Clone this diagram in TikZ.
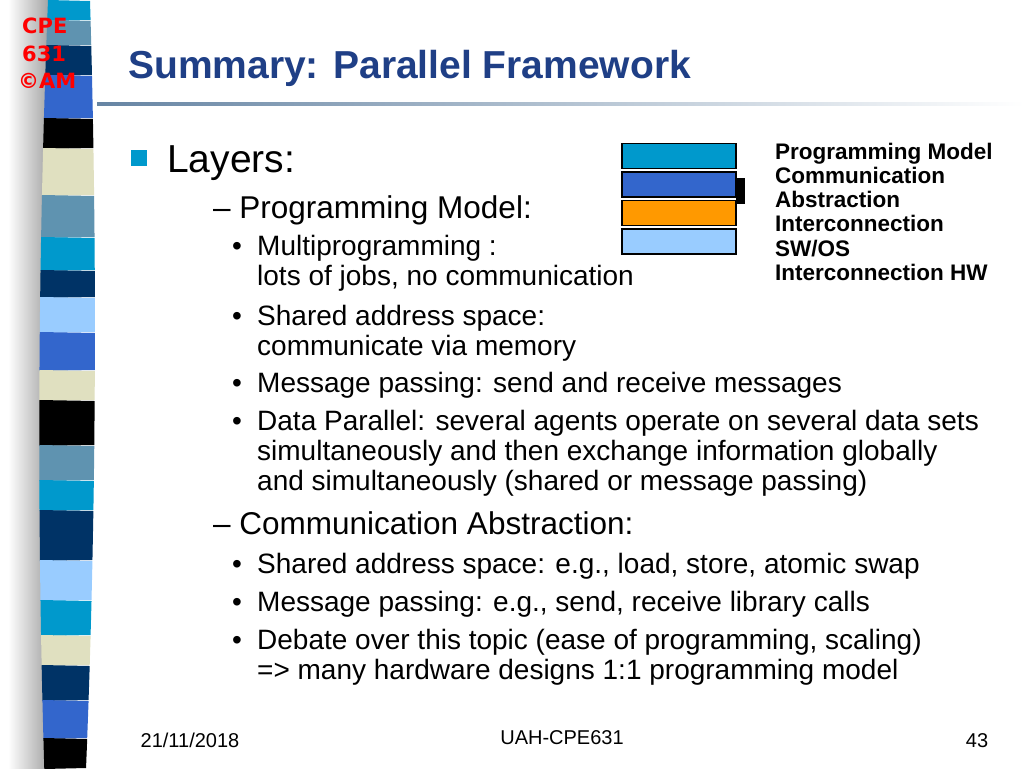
\documentclass[tikz,border=0pt]{standalone}
\usepackage{fontspec}
\setmainfont{Liberation Sans}
\newfontfamily\logofont{DejaVu Sans}
\usepackage{tikz}
\usetikzlibrary{positioning}
\definecolor{stcyan}{HTML}{0099CC}
\definecolor{ststeel}{HTML}{5F93B0}
\definecolor{stnavy}{HTML}{003366}
\definecolor{stroyal}{HTML}{3366CC}
\definecolor{stbeige}{HTML}{E0E0C0}
\definecolor{stlight}{HTML}{99CCFF}
\definecolor{titleblue}{HTML}{1F3F86}
\definecolor{layorange}{HTML}{FF9900}
\begin{document}
\begin{tikzpicture}[x=1pt,y=-1pt]

		\tikzset{
			body/.style={anchor=base west, inner sep=0pt, font=\fontsize{28}{34}\selectfont},
			sub/.style={anchor=base west, inner sep=0pt, font=\fontsize{31.5}{38}\selectfont},
			layer/.style={draw=black, line width=1.5pt, minimum width=114pt, minimum height=25pt, inner sep=0pt},
			lbl/.style={anchor=base west, inner sep=0pt, font=\fontsize{22.5}{26}\bfseries\selectfont},
			logotext/.style={anchor=base west, inner sep=0pt, text=red, font=\logofont\fontsize{21}{26}\bfseries\selectfont},
			foot/.style={anchor=base, inner sep=0pt, font=\fontsize{20}{24}\selectfont},
		}
		\useasboundingbox (0,0) rectangle (1024,768);
		\fill[white] (0,0) rectangle (1024,768);
		% shadow of the bar
		\shade[left color=white, right color=gray!70] (8,0) rectangle (48,768);
		% striped bar
		\foreach \ya/\yb/\c in {0/20/stcyan,20/45/ststeel,45/75/stnavy,75/118/stroyal,118/148/black,148/195/stbeige,195/237/ststeel,237/270/stcyan,270/297/stnavy,297/332/stlight,332/370/stroyal,370/400/stbeige,400/445/black,445/480/ststeel,480/510/stcyan,510/560/stnavy,560/600/stlight,600/635/stcyan,635/665/stbeige,665/700/stnavy,700/738/stroyal,738/768/black}{
			\fill[\c] ({48-0.04*\ya+0.00005*\ya*\ya},\ya) -- ({90+0.03*\ya-0.00004*\ya*\ya},\ya+1) -- ({90+0.03*\yb-0.00004*\yb*\yb},\yb) -- ({48-0.04*\yb+0.00005*\yb*\yb},\yb+1) -- cycle;
		}
		\node[logotext] (logo1) at (22,34) {CPE};
		\node[logotext] (logo2) at (22,61) {631};
		\node[logotext] (logo3) at (18,88) {\textcopyright AM};

		% title
		\shade[left color=stnavy!60, right color=white] (97,102) rectangle (1024,105);
		\node[anchor=base west, inner sep=0pt, text=titleblue, font=\fontsize{39}{44}\bfseries\selectfont] (title) at (128,78) {Summary: Parallel Framework};

		% text
		\fill[stcyan] (131,150) rectangle (147,166);
		\node[anchor=base west, inner sep=0pt, font=\fontsize{39}{44}\selectfont] (layers) at (167,172) {Layers:};
		\node[sub] (pm) at (213,218) {– Programming Model:};
		\node[body] (b1) at (232,255) {•};
		\node[body] (t1) at (257,255) {Multiprogramming :};
		\node[body] (t1b) at (257,285) {lots of jobs, no communication};
		\node[body] (b2) at (232,325) {•};
		\node[body] (t2) at (257,325) {Shared address space:};
		\node[body] (t2b) at (257,355) {communicate via memory};
		\node[body] (b3) at (232,392) {•};
		\node[body] (t3) at (257,392) {Message passing: send and receive messages};
		\node[body] (b4) at (232,430) {•};
		\node[body] (t4) at (257,430) {Data Parallel: several agents operate on several data sets};
		\node[body] (t4b) at (257,460) {simultaneously and then exchange information globally};
		\node[body] (t4c) at (257,490) {and simultaneously (shared or message passing)};
		\node[sub] (ca) at (213,534) {– Communication Abstraction:};
		\node[body] (b5) at (232,573) {•};
		\node[body] (t5) at (257,573) {Shared address space: e.g., load, store, atomic swap};
		\node[body] (b6) at (232,611) {•};
		\node[body] (t6) at (257,611) {Message passing: e.g., send, receive library calls};
		\node[body] (b7) at (232,649) {•};
		\node[body] (t7) at (257,649) {Debate over this topic (ease of programming, scaling)};
		\node[body] (t7b) at (257,679) {=> many hardware designs 1:1 programming model};

		% layers
		\node[layer, fill=stcyan] (l1) at (679,156) {};
		\node[layer, fill=stroyal, below=2pt of l1] (l2) {};
		\node[layer, fill=layorange, below=2pt of l2] (l3) {};
		\node[layer, fill=stlight, below=2pt of l3] (l4) {};
		\fill[black] (736,178) rectangle (745,204);
		\foreach \t [count=\i] in {Programming Model,Communication,Abstraction,Interconnection,SW/OS,Interconnection HW}{
			\node[lbl] (lbl\i) at (775,{135+24.2*\i}) {\t};
		}

		% footer
		\node[foot] (date) at (190,747) {21/11/2018};
		\node[foot] (uah) at (562,744) {UAH-CPE631};
		\node[foot] (page) at (977,747) {43};

	\end{tikzpicture}
\end{document}
